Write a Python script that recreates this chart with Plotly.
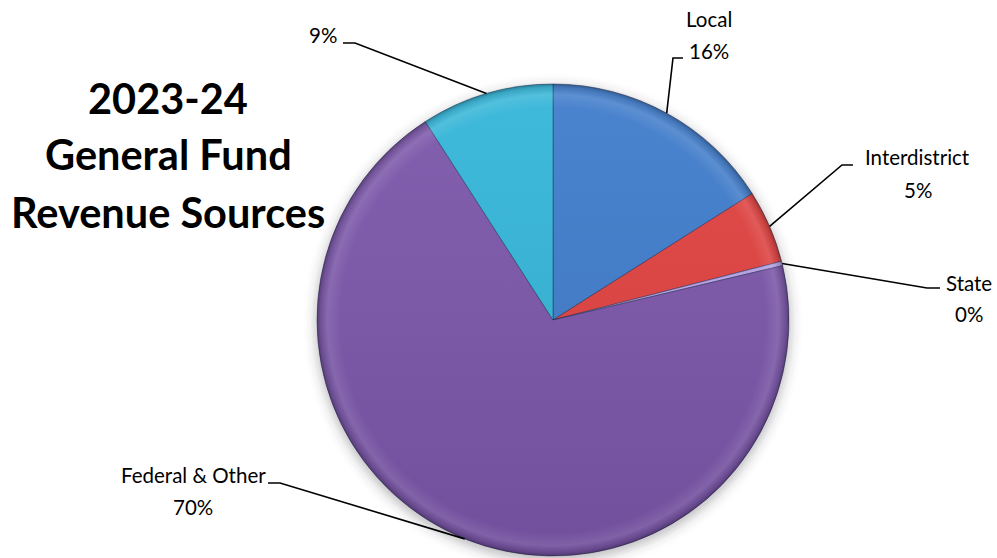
import math
import base64
import plotly.graph_objects as go

# Revenue sources (percent of general fund)
categories = ["Local", "Interdistrict", "State", "Federal & Other", ""]
values = [16.0, 5.0, 0.3, 69.6, 9.1]
colors = ["#3F7CCB", "#E0413F", "#B9A3E8", "#7B56AA", "#33B5D8"]

title_lines = ["2023-24", "General Fund", "Revenue Sources"]

W, H = 997, 558
CX, CY, R = 553, 320, 236  # pie centre and radius in pixels

# label layout: (elbow point, tail end, name line centre, percent line centre)
label_layout = [
    ((673, 58), (683, 58), (709, 19), (709, 51)),
    ((842, 165), (853, 165), (917, 157), (918, 190)),
    ((927, 288), (940, 288), (969, 283), (969, 314)),
    ((280, 483), (268, 483), (193, 475), (193, 507)),
    ((355, 43), (343, 43), None, (323, 35)),
]

FONT = "Lato, 'Open Sans', sans-serif"


def px(x):
    return x / W


def py(y):
    return 1 - y / H


def svg_uri(svg):
    return "data:image/svg+xml;base64," + base64.b64encode(svg.encode()).decode()


# soft drop shadow under the disc
shadow_svg = (
    "<svg xmlns='http://www.w3.org/2000/svg' viewBox='0 0 120 120' width='600' height='600'>"
    "<defs><filter id='b' x='-20%' y='-20%' width='140%' height='140%'>"
    "<feGaussianBlur stdDeviation='1.2'/></filter></defs>"
    "<circle cx='60' cy='60.8' r='50.3' fill='rgba(60,60,70,0.35)' filter='url(#b)'/></svg>"
)
# bevel shading over the disc: light inner rim, dark outer edge
bevel_svg = (
    "<svg xmlns='http://www.w3.org/2000/svg' viewBox='0 0 100 100' width='600' height='600'>"
    "<defs><radialGradient id='g' cx='50' cy='50' r='50' gradientUnits='userSpaceOnUse'>"
    "<stop offset='0' stop-color='white' stop-opacity='0'/>"
    "<stop offset='0.90' stop-color='white' stop-opacity='0'/>"
    "<stop offset='0.955' stop-color='white' stop-opacity='0.10'/>"
    "<stop offset='0.985' stop-color='black' stop-opacity='0.10'/>"
    "<stop offset='1' stop-color='black' stop-opacity='0.30'/>"
    "</radialGradient>"
    "<linearGradient id='v' x1='0' y1='0' x2='0' y2='1'>"
    "<stop offset='0' stop-color='white' stop-opacity='0.06'/>"
    "<stop offset='1' stop-color='black' stop-opacity='0.08'/>"
    "</linearGradient></defs>"
    "<circle cx='50' cy='50' r='50' fill='url(#v)'/>"
    "<circle cx='50' cy='50' r='50' fill='url(#g)'/></svg>"
)

fig = go.Figure(
    go.Pie(
        labels=categories,
        values=values,
        sort=False,
        direction="clockwise",
        rotation=0,
        marker=dict(colors=colors, line=dict(color="rgba(20,30,70,0.45)", width=1)),
        textinfo="none",
        hoverinfo="label+percent",
        showlegend=False,
        domain=dict(x=[px(CX - R), px(CX + R)], y=[py(CY + R), py(CY - R)]),
    )
)

total = sum(values)
shapes = []
annotations = []
cum = 0.0
for name, val, lay in zip(categories, values, label_layout):
    mid = (cum + val / 2) / total
    cum += val
    theta = 2 * math.pi * mid
    ex = CX + R * math.sin(theta)
    ey = CY - R * math.cos(theta)
    (bx, by), (tx, ty), name_pos, pct_pos = lay
    shapes.append(dict(
        type="path", xref="paper", yref="paper",
        path=f"M {px(ex)},{py(ey)} L {px(bx)},{py(by)} L {px(tx)},{py(ty)}",
        line=dict(color="black", width=1.6),
    ))
    pct = f"{round(100 * val / total)}%"
    if name_pos is not None:
        annotations.append(dict(
            x=px(name_pos[0]), y=py(name_pos[1]), xref="paper", yref="paper",
            text=name, showarrow=False, xanchor="center", yanchor="middle",
            font=dict(family=FONT, size=20.5, color="black"),
        ))
    annotations.append(dict(
        x=px(pct_pos[0]), y=py(pct_pos[1]), xref="paper", yref="paper",
        text=pct, showarrow=False, xanchor="center", yanchor="middle",
        font=dict(family=FONT, size=20.5, color="black"),
    ))

for line, yc in zip(title_lines, [98, 154, 212]):
    annotations.append(dict(
        x=px(168), y=py(yc), xref="paper", yref="paper",
        text=f"<b>{line}</b>", showarrow=False, xanchor="center", yanchor="middle",
        font=dict(family=FONT, size=41.5, color="black"),
    ))

SR = R * 1.2
fig.update_layout(
    width=W, height=H,
    margin=dict(l=0, r=0, t=0, b=0),
    paper_bgcolor="white",
    plot_bgcolor="white",
    shapes=shapes,
    annotations=annotations,
    images=[
        dict(source=svg_uri(shadow_svg), xref="paper", yref="paper",
             x=px(CX - SR), y=py(CY - SR), sizex=2 * SR / W, sizey=2 * SR / H,
             xanchor="left", yanchor="top", sizing="stretch", layer="below"),
        dict(source=svg_uri(bevel_svg), xref="paper", yref="paper",
             x=px(CX - R), y=py(CY - R), sizex=2 * R / W, sizey=2 * R / H,
             xanchor="left", yanchor="top", sizing="stretch", layer="above"),
    ],
)

fig.write_html("out.html")
